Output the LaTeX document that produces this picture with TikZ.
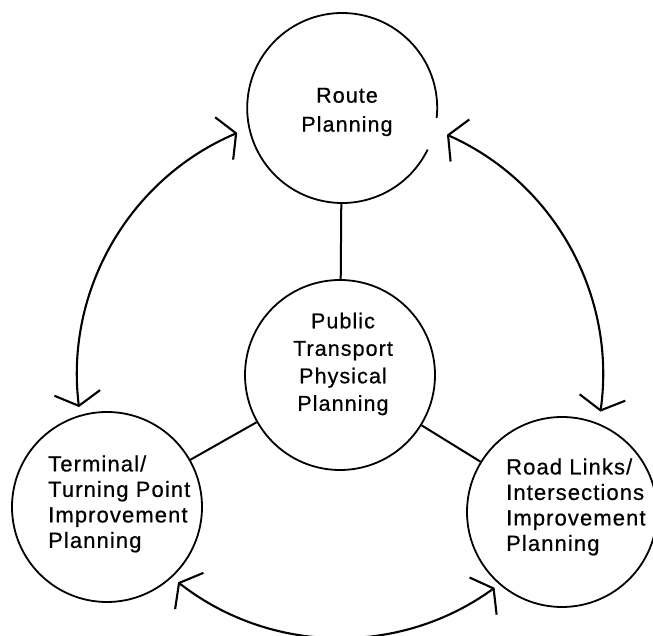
\documentclass[tikz,border=0pt]{standalone}
\usepackage{fontspec}
\setmainfont{Liberation Sans}[LetterSpace=5, FakeBold=0.6]
\usetikzlibrary{arrows.meta}

\begin{document}
\begin{tikzpicture}[x=1pt,y=1pt,
  disc/.style={circle, draw, line width=1.8pt, minimum size=190pt, inner sep=0pt},
  bare/.style={circle, minimum size=190pt, inner sep=0pt},
  txt/.style={inner sep=0pt},
  link/.style={line width=2pt},
  barb/.tip={Straight Barb[length=13pt,width=46pt]},
  loopar/.style={line width=2.1pt, barb-barb}
]
\useasboundingbox (0,0) rectangle (653,636);

% the four planning circles
\node[bare] (top)   at (342,528) {};
\node[disc] (ctr)   at (340,261) {};
\node[disc] (left)  at (107,129) {};
\node[disc] (right) at (562,124) {};
% the upper circle's outline is broken on its right side
\draw[line width=1.8pt] (top.-6) arc[start angle=-6, end angle=334, radius=95pt];

% texts
\node[txt, align=center, font=\fontsize{21.5}{29}\selectfont] (topTxt) at (347,524) {Route\\Planning};
\node[txt, align=center, font=\fontsize{21.5}{27.5}\selectfont] (ctrTxt) at (343,272) {Public\\Transport\\Physical\\Planning};
\node[txt, align=left, anchor=west, font=\fontsize{22}{25.5}\selectfont] (leftTxt) at (48,132) {Terminal/\\Turning Point\\Improvement\\Planning};
\node[txt, align=left, anchor=west, font=\fontsize{22}{25.5}\selectfont] (rightTxt) at (506,129) {Road Links/\\Intersections\\Improvement\\Planning};

% spokes from the central circle
\draw[link] (top) -- (ctr);
\draw[link] (ctr) -- (left);
\draw[link] (ctr) -- (right);

% two-way arcs round the centre
\path (ctr) ++(113:263pt) coordinate (aTL);
\path (ctr) ++(66:263pt)  coordinate (aTR);
\path (ctr) ++(232:263pt) coordinate (aB);
\draw[loopar] (aTL) arc[start angle=113, end angle=187, radius=263pt];
\draw[loopar] (aTR) arc[start angle=66, end angle=-8, radius=263pt];
\draw[loopar] (aB)  arc[start angle=232, end angle=306, radius=263pt];
\end{tikzpicture}
\end{document}
